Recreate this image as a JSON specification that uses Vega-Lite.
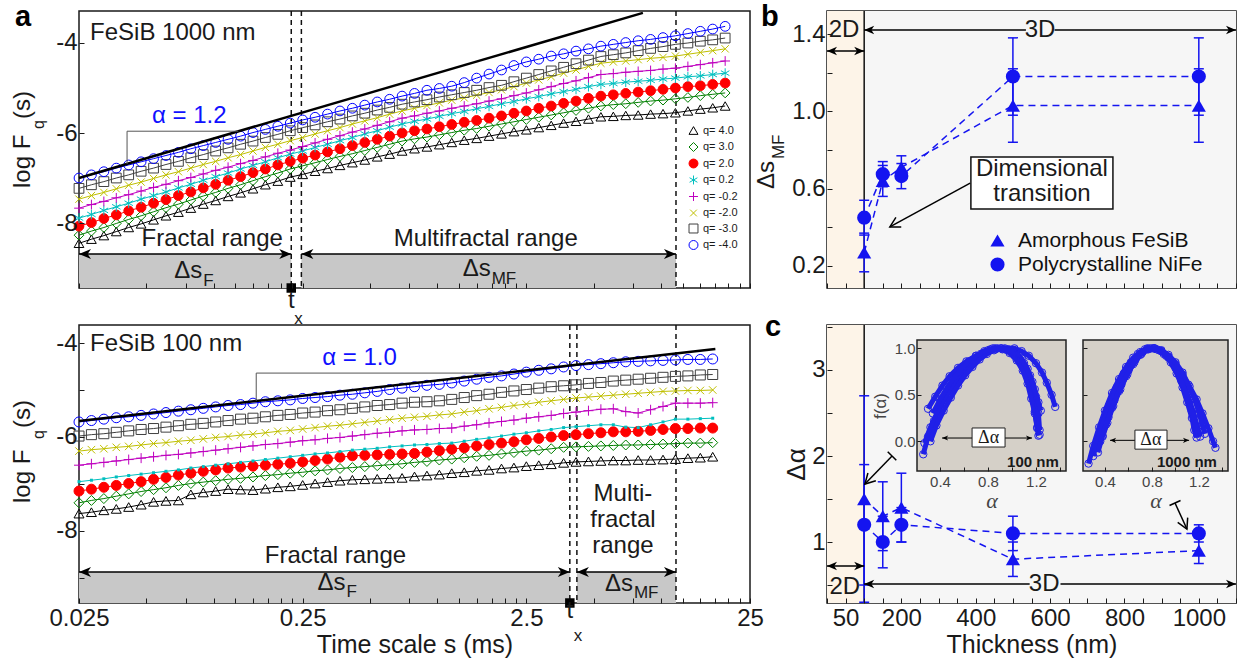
{
"$schema":"https://vega.github.io/schema/vega-lite/v6.json",
"padding":{"left":10,"top":2,"right":5,"bottom":5},
"background":"white",
"config":{
 "font":"Liberation Sans",
 "view":{"stroke":"#1a1a1a","strokeWidth":1.5},
 "axis":{"domain":false,"grid":false,"ticks":true,"tickColor":"#1a1a1a","tickSize":-5,"tickWidth":1,"labelFont":"Liberation Sans","labelFontSize":24,"labelColor":"#1a1a1a","labelPadding":8,"titleFont":"Liberation Sans","titleFontSize":25,"titleFontWeight":"normal","titleColor":"#1a1a1a","labelFlush":false,"labelOverlap":false},
 "text":{"font":"Liberation Sans","color":"#1a1a1a"}
},
"resolve":{"scale":{"color":"independent","shape":"independent","stroke":"independent","fill":"independent","size":"independent"},"legend":{"color":"independent","shape":"independent","stroke":"independent","fill":"independent","size":"independent"}},
"datasets":{
 "qinfo":[{"key":"q4","q":"q=  4.0"},{"key":"q3","q":"q=  3.0"},{"key":"q2","q":"q=  2.0"},{"key":"q02","q":"q=  0.2"},{"key":"qm02","q":"q= -0.2"},{"key":"qm2","q":"q= -2.0"},{"key":"qm3","q":"q= -3.0"},{"key":"qm4","q":"q= -4.0"}],
 "aTop":[
{"s":0.025,"q4":-8.45,"q3":-8.27,"q2":-8.07,"q02":-7.89,"qm02":-7.67,"qm2":-7.47,"qm3":-7.23,"qm4":-7.0},
{"s":0.02841,"q4":-8.36,"q3":-8.18,"q2":-7.99,"q02":-7.81,"qm02":-7.59,"qm2":-7.39,"qm3":-7.15,"qm4":-6.93},
{"s":0.03229,"q4":-8.28,"q3":-8.1,"q2":-7.9,"q02":-7.72,"qm02":-7.52,"qm2":-7.32,"qm3":-7.08,"qm4":-6.86},
{"s":0.0367,"q4":-8.19,"q3":-8.01,"q2":-7.82,"q02":-7.64,"qm02":-7.44,"qm2":-7.24,"qm3":-7.0,"qm4":-6.78},
{"s":0.0417,"q4":-8.1,"q3":-7.92,"q2":-7.73,"q02":-7.56,"qm02":-7.37,"qm2":-7.16,"qm3":-6.93,"qm4":-6.71},
{"s":0.04739,"q4":-8.02,"q3":-7.84,"q2":-7.65,"q02":-7.47,"qm02":-7.29,"qm2":-7.09,"qm3":-6.85,"qm4":-6.64},
{"s":0.05386,"q4":-7.93,"q3":-7.75,"q2":-7.56,"q02":-7.39,"qm02":-7.21,"qm2":-7.01,"qm3":-6.78,"qm4":-6.57},
{"s":0.06121,"q4":-7.84,"q3":-7.66,"q2":-7.48,"q02":-7.31,"qm02":-7.14,"qm2":-6.93,"qm3":-6.7,"qm4":-6.5},
{"s":0.06957,"q4":-7.76,"q3":-7.58,"q2":-7.39,"q02":-7.22,"qm02":-7.06,"qm2":-6.86,"qm3":-6.63,"qm4":-6.43},
{"s":0.07906,"q4":-7.67,"q3":-7.49,"q2":-7.31,"q02":-7.14,"qm02":-6.99,"qm2":-6.78,"qm3":-6.55,"qm4":-6.35},
{"s":0.08985,"q4":-7.58,"q3":-7.4,"q2":-7.22,"q02":-7.05,"qm02":-6.91,"qm2":-6.7,"qm3":-6.48,"qm4":-6.28},
{"s":0.1021,"q4":-7.5,"q3":-7.32,"q2":-7.14,"q02":-6.97,"qm02":-6.83,"qm2":-6.63,"qm3":-6.4,"qm4":-6.21},
{"s":0.116,"q4":-7.41,"q3":-7.23,"q2":-7.05,"q02":-6.89,"qm02":-6.76,"qm2":-6.55,"qm3":-6.33,"qm4":-6.14},
{"s":0.1319,"q4":-7.33,"q3":-7.15,"q2":-6.97,"q02":-6.8,"qm02":-6.68,"qm2":-6.48,"qm3":-6.25,"qm4":-6.07},
{"s":0.1499,"q4":-7.24,"q3":-7.06,"q2":-6.88,"q02":-6.72,"qm02":-6.61,"qm2":-6.4,"qm3":-6.18,"qm4":-5.99},
{"s":0.1703,"q4":-7.15,"q3":-6.97,"q2":-6.8,"q02":-6.64,"qm02":-6.53,"qm2":-6.32,"qm3":-6.1,"qm4":-5.92},
{"s":0.1936,"q4":-7.07,"q3":-6.89,"q2":-6.71,"q02":-6.55,"qm02":-6.45,"qm2":-6.25,"qm3":-6.03,"qm4":-5.85},
{"s":0.22,"q4":-6.98,"q3":-6.8,"q2":-6.63,"q02":-6.47,"qm02":-6.38,"qm2":-6.17,"qm3":-5.95,"qm4":-5.78},
{"s":0.25,"q4":-6.92,"q3":-6.73,"q2":-6.56,"q02":-6.4,"qm02":-6.3,"qm2":-6.1,"qm3":-5.88,"qm4":-5.71},
{"s":0.2841,"q4":-6.85,"q3":-6.66,"q2":-6.49,"q02":-6.32,"qm02":-6.22,"qm2":-6.02,"qm3":-5.82,"qm4":-5.65},
{"s":0.3229,"q4":-6.79,"q3":-6.59,"q2":-6.42,"q02":-6.25,"qm02":-6.14,"qm2":-5.95,"qm3":-5.75,"qm4":-5.58},
{"s":0.367,"q4":-6.72,"q3":-6.52,"q2":-6.35,"q02":-6.17,"qm02":-6.06,"qm2":-5.88,"qm3":-5.69,"qm4":-5.51},
{"s":0.417,"q4":-6.66,"q3":-6.46,"q2":-6.28,"q02":-6.1,"qm02":-5.98,"qm2":-5.8,"qm3":-5.62,"qm4":-5.45},
{"s":0.4739,"q4":-6.6,"q3":-6.39,"q2":-6.21,"q02":-6.02,"qm02":-5.91,"qm2":-5.73,"qm3":-5.56,"qm4":-5.38},
{"s":0.5386,"q4":-6.53,"q3":-6.32,"q2":-6.14,"q02":-5.95,"qm02":-5.83,"qm2":-5.66,"qm3":-5.49,"qm4":-5.31},
{"s":0.6121,"q4":-6.47,"q3":-6.25,"q2":-6.07,"q02":-5.87,"qm02":-5.75,"qm2":-5.58,"qm3":-5.43,"qm4":-5.25},
{"s":0.6957,"q4":-6.4,"q3":-6.18,"q2":-6.0,"q02":-5.8,"qm02":-5.67,"qm2":-5.51,"qm3":-5.36,"qm4":-5.18},
{"s":0.7906,"q4":-6.35,"q3":-6.13,"q2":-5.95,"q02":-5.74,"qm02":-5.62,"qm2":-5.45,"qm3":-5.31,"qm4":-5.12},
{"s":0.8985,"q4":-6.31,"q3":-6.09,"q2":-5.91,"q02":-5.69,"qm02":-5.56,"qm2":-5.39,"qm3":-5.26,"qm4":-5.05},
{"s":1.021,"q4":-6.26,"q3":-6.04,"q2":-5.86,"q02":-5.63,"qm02":-5.51,"qm2":-5.33,"qm3":-5.2,"qm4":-5.01},
{"s":1.16,"q4":-6.21,"q3":-5.99,"q2":-5.81,"q02":-5.57,"qm02":-5.45,"qm2":-5.27,"qm3":-5.15,"qm4":-4.96},
{"s":1.319,"q4":-6.16,"q3":-5.94,"q2":-5.76,"q02":-5.52,"qm02":-5.4,"qm2":-5.22,"qm3":-5.1,"qm4":-4.88},
{"s":1.499,"q4":-6.12,"q3":-5.9,"q2":-5.72,"q02":-5.46,"qm02":-5.35,"qm2":-5.16,"qm3":-5.05,"qm4":-4.78},
{"s":1.703,"q4":-6.07,"q3":-5.85,"q2":-5.67,"q02":-5.41,"qm02":-5.29,"qm2":-5.1,"qm3":-4.99,"qm4":-4.69},
{"s":1.936,"q4":-6.02,"q3":-5.8,"q2":-5.62,"q02":-5.35,"qm02":-5.24,"qm2":-5.04,"qm3":-4.94,"qm4":-4.6},
{"s":2.2,"q4":-5.97,"q3":-5.75,"q2":-5.56,"q02":-5.3,"qm02":-5.17,"qm2":-4.97,"qm3":-4.86,"qm4":-4.5},
{"s":2.5,"q4":-5.93,"q3":-5.7,"q2":-5.51,"q02":-5.24,"qm02":-5.11,"qm2":-4.89,"qm3":-4.78,"qm4":-4.42},
{"s":2.841,"q4":-5.88,"q3":-5.65,"q2":-5.45,"q02":-5.19,"qm02":-5.04,"qm2":-4.82,"qm3":-4.7,"qm4":-4.36},
{"s":3.229,"q4":-5.83,"q3":-5.6,"q2":-5.4,"q02":-5.13,"qm02":-4.97,"qm2":-4.75,"qm3":-4.62,"qm4":-4.29},
{"s":3.67,"q4":-5.78,"q3":-5.55,"q2":-5.34,"q02":-5.08,"qm02":-4.9,"qm2":-4.67,"qm3":-4.54,"qm4":-4.24},
{"s":4.17,"q4":-5.74,"q3":-5.5,"q2":-5.29,"q02":-5.03,"qm02":-4.84,"qm2":-4.6,"qm3":-4.46,"qm4":-4.18},
{"s":4.739,"q4":-5.69,"q3":-5.45,"q2":-5.23,"q02":-4.97,"qm02":-4.77,"qm2":-4.52,"qm3":-4.38,"qm4":-4.13},
{"s":5.386,"q4":-5.64,"q3":-5.4,"q2":-5.18,"q02":-4.92,"qm02":-4.7,"qm2":-4.45,"qm3":-4.3,"qm4":-4.07},
{"s":6.121,"q4":-5.63,"q3":-5.37,"q2":-5.15,"q02":-4.9,"qm02":-4.68,"qm2":-4.42,"qm3":-4.26,"qm4":-4.03},
{"s":6.957,"q4":-5.61,"q3":-5.35,"q2":-5.12,"q02":-4.87,"qm02":-4.65,"qm2":-4.4,"qm3":-4.22,"qm4":-3.99},
{"s":7.906,"q4":-5.6,"q3":-5.32,"q2":-5.09,"q02":-4.85,"qm02":-4.63,"qm2":-4.37,"qm3":-4.17,"qm4":-3.95},
{"s":8.985,"q4":-5.58,"q3":-5.29,"q2":-5.06,"q02":-4.83,"qm02":-4.61,"qm2":-4.34,"qm3":-4.12,"qm4":-3.92},
{"s":10.21,"q4":-5.57,"q3":-5.27,"q2":-5.03,"q02":-4.8,"qm02":-4.58,"qm2":-4.32,"qm3":-4.08,"qm4":-3.88},
{"s":11.6,"q4":-5.55,"q3":-5.24,"q2":-5.0,"q02":-4.78,"qm02":-4.56,"qm2":-4.29,"qm3":-4.03,"qm4":-3.84},
{"s":13.19,"q4":-5.51,"q3":-5.21,"q2":-4.97,"q02":-4.75,"qm02":-4.52,"qm2":-4.25,"qm3":-4.0,"qm4":-3.79},
{"s":14.99,"q4":-5.47,"q3":-5.17,"q2":-4.95,"q02":-4.73,"qm02":-4.48,"qm2":-4.21,"qm3":-3.96,"qm4":-3.74},
{"s":17.03,"q4":-5.44,"q3":-5.14,"q2":-4.92,"q02":-4.7,"qm02":-4.44,"qm2":-4.17,"qm3":-3.93,"qm4":-3.69},
{"s":19.36,"q4":-5.4,"q3":-5.11,"q2":-4.89,"q02":-4.67,"qm02":-4.4,"qm2":-4.13,"qm3":-3.89,"qm4":-3.63}
 ],
 "aBot":[
{"s":0.025,"q4":-7.63,"q3":-7.4,"q2":-7.15,"q02":-6.95,"qm02":-6.6,"qm2":-6.3,"qm3":-5.98,"qm4":-5.68},
{"s":0.02841,"q4":-7.6,"q3":-7.35,"q2":-7.11,"q02":-6.92,"qm02":-6.57,"qm2":-6.27,"qm3":-5.95,"qm4":-5.65},
{"s":0.03229,"q4":-7.56,"q3":-7.31,"q2":-7.07,"q02":-6.89,"qm02":-6.54,"qm2":-6.25,"qm3":-5.93,"qm4":-5.62},
{"s":0.0367,"q4":-7.53,"q3":-7.26,"q2":-7.03,"q02":-6.85,"qm02":-6.51,"qm2":-6.22,"qm3":-5.9,"qm4":-5.59},
{"s":0.0417,"q4":-7.49,"q3":-7.21,"q2":-6.99,"q02":-6.82,"qm02":-6.48,"qm2":-6.2,"qm3":-5.87,"qm4":-5.57},
{"s":0.04739,"q4":-7.44,"q3":-7.16,"q2":-6.95,"q02":-6.79,"qm02":-6.45,"qm2":-6.17,"qm3":-5.84,"qm4":-5.54},
{"s":0.05386,"q4":-7.38,"q3":-7.12,"q2":-6.9,"q02":-6.76,"qm02":-6.42,"qm2":-6.14,"qm3":-5.82,"qm4":-5.51},
{"s":0.06121,"q4":-7.36,"q3":-7.08,"q2":-6.86,"q02":-6.73,"qm02":-6.39,"qm2":-6.12,"qm3":-5.79,"qm4":-5.48},
{"s":0.06957,"q4":-7.35,"q3":-7.03,"q2":-6.81,"q02":-6.7,"qm02":-6.37,"qm2":-6.09,"qm3":-5.76,"qm4":-5.45},
{"s":0.07906,"q4":-7.22,"q3":-6.99,"q2":-6.77,"q02":-6.66,"qm02":-6.34,"qm2":-6.07,"qm3":-5.73,"qm4":-5.42},
{"s":0.08985,"q4":-7.18,"q3":-6.96,"q2":-6.73,"q02":-6.63,"qm02":-6.31,"qm2":-6.04,"qm3":-5.71,"qm4":-5.39},
{"s":0.1021,"q4":-7.15,"q3":-6.93,"q2":-6.7,"q02":-6.6,"qm02":-6.28,"qm2":-6.01,"qm3":-5.68,"qm4":-5.36},
{"s":0.116,"q4":-7.11,"q3":-6.9,"q2":-6.66,"q02":-6.57,"qm02":-6.25,"qm2":-5.99,"qm3":-5.65,"qm4":-5.33},
{"s":0.1319,"q4":-7.12,"q3":-6.88,"q2":-6.64,"q02":-6.54,"qm02":-6.22,"qm2":-5.96,"qm3":-5.62,"qm4":-5.31},
{"s":0.1499,"q4":-7.13,"q3":-6.85,"q2":-6.62,"q02":-6.51,"qm02":-6.19,"qm2":-5.94,"qm3":-5.6,"qm4":-5.28},
{"s":0.1703,"q4":-7.1,"q3":-6.82,"q2":-6.6,"q02":-6.48,"qm02":-6.16,"qm2":-5.91,"qm3":-5.57,"qm4":-5.25},
{"s":0.1936,"q4":-7.07,"q3":-6.8,"q2":-6.58,"q02":-6.45,"qm02":-6.14,"qm2":-5.88,"qm3":-5.54,"qm4":-5.23},
{"s":0.22,"q4":-7.05,"q3":-6.77,"q2":-6.56,"q02":-6.42,"qm02":-6.11,"qm2":-5.86,"qm3":-5.52,"qm4":-5.21},
{"s":0.25,"q4":-7.02,"q3":-6.75,"q2":-6.53,"q02":-6.39,"qm02":-6.08,"qm2":-5.83,"qm3":-5.49,"qm4":-5.18},
{"s":0.2841,"q4":-6.99,"q3":-6.72,"q2":-6.5,"q02":-6.36,"qm02":-6.06,"qm2":-5.8,"qm3":-5.47,"qm4":-5.16},
{"s":0.3229,"q4":-6.96,"q3":-6.7,"q2":-6.47,"q02":-6.34,"qm02":-6.03,"qm2":-5.77,"qm3":-5.44,"qm4":-5.14},
{"s":0.367,"q4":-6.93,"q3":-6.67,"q2":-6.43,"q02":-6.31,"qm02":-6.01,"qm2":-5.75,"qm3":-5.42,"qm4":-5.11},
{"s":0.417,"q4":-6.91,"q3":-6.65,"q2":-6.4,"q02":-6.28,"qm02":-5.98,"qm2":-5.72,"qm3":-5.39,"qm4":-5.09},
{"s":0.4739,"q4":-6.9,"q3":-6.63,"q2":-6.39,"q02":-6.26,"qm02":-5.95,"qm2":-5.69,"qm3":-5.36,"qm4":-5.06},
{"s":0.5386,"q4":-6.89,"q3":-6.61,"q2":-6.38,"q02":-6.24,"qm02":-5.92,"qm2":-5.66,"qm3":-5.33,"qm4":-5.03},
{"s":0.6121,"q4":-6.88,"q3":-6.59,"q2":-6.37,"q02":-6.21,"qm02":-5.9,"qm2":-5.63,"qm3":-5.31,"qm4":-4.99},
{"s":0.6957,"q4":-6.87,"q3":-6.57,"q2":-6.36,"q02":-6.19,"qm02":-5.87,"qm2":-5.6,"qm3":-5.28,"qm4":-4.96},
{"s":0.7906,"q4":-6.84,"q3":-6.54,"q2":-6.35,"q02":-6.17,"qm02":-5.85,"qm2":-5.58,"qm3":-5.26,"qm4":-4.93},
{"s":0.8985,"q4":-6.82,"q3":-6.52,"q2":-6.32,"q02":-6.16,"qm02":-5.84,"qm2":-5.56,"qm3":-5.25,"qm4":-4.9},
{"s":1.021,"q4":-6.8,"q3":-6.49,"q2":-6.29,"q02":-6.14,"qm02":-5.82,"qm2":-5.53,"qm3":-5.23,"qm4":-4.88},
{"s":1.16,"q4":-6.77,"q3":-6.47,"q2":-6.26,"q02":-6.13,"qm02":-5.81,"qm2":-5.51,"qm3":-5.2,"qm4":-4.85},
{"s":1.319,"q4":-6.75,"q3":-6.44,"q2":-6.23,"q02":-6.09,"qm02":-5.77,"qm2":-5.47,"qm3":-5.16,"qm4":-4.81},
{"s":1.499,"q4":-6.72,"q3":-6.41,"q2":-6.19,"q02":-6.05,"qm02":-5.74,"qm2":-5.44,"qm3":-5.12,"qm4":-4.77},
{"s":1.703,"q4":-6.7,"q3":-6.39,"q2":-6.16,"q02":-6.02,"qm02":-5.7,"qm2":-5.4,"qm3":-5.09,"qm4":-4.73},
{"s":1.936,"q4":-6.67,"q3":-6.36,"q2":-6.13,"q02":-5.98,"qm02":-5.67,"qm2":-5.37,"qm3":-5.05,"qm4":-4.7},
{"s":2.2,"q4":-6.65,"q3":-6.33,"q2":-6.1,"q02":-5.94,"qm02":-5.64,"qm2":-5.33,"qm3":-5.02,"qm4":-4.66},
{"s":2.5,"q4":-6.62,"q3":-6.3,"q2":-6.06,"q02":-5.91,"qm02":-5.6,"qm2":-5.3,"qm3":-4.99,"qm4":-4.62},
{"s":2.841,"q4":-6.6,"q3":-6.28,"q2":-6.03,"q02":-5.87,"qm02":-5.57,"qm2":-5.26,"qm3":-4.96,"qm4":-4.58},
{"s":3.229,"q4":-6.58,"q3":-6.25,"q2":-6.0,"q02":-5.84,"qm02":-5.54,"qm2":-5.23,"qm3":-4.93,"qm4":-4.55},
{"s":3.67,"q4":-6.55,"q3":-6.22,"q2":-5.97,"q02":-5.8,"qm02":-5.5,"qm2":-5.2,"qm3":-4.91,"qm4":-4.51},
{"s":4.17,"q4":-6.53,"q3":-6.21,"q2":-5.95,"q02":-5.78,"qm02":-5.47,"qm2":-5.17,"qm3":-4.89,"qm4":-4.48},
{"s":4.739,"q4":-6.52,"q3":-6.2,"q2":-5.93,"q02":-5.76,"qm02":-5.44,"qm2":-5.15,"qm3":-4.86,"qm4":-4.46},
{"s":5.386,"q4":-6.51,"q3":-6.19,"q2":-5.91,"q02":-5.74,"qm02":-5.41,"qm2":-5.13,"qm3":-4.84,"qm4":-4.44},
{"s":6.121,"q4":-6.5,"q3":-6.18,"q2":-5.89,"q02":-5.74,"qm02":-5.4,"qm2":-5.11,"qm3":-4.81,"qm4":-4.42},
{"s":6.957,"q4":-6.5,"q3":-6.17,"q2":-5.89,"q02":-5.79,"qm02":-5.46,"qm2":-5.09,"qm3":-4.79,"qm4":-4.4},
{"s":7.906,"q4":-6.49,"q3":-6.17,"q2":-5.88,"q02":-5.8,"qm02":-5.49,"qm2":-5.07,"qm3":-4.77,"qm4":-4.39},
{"s":8.985,"q4":-6.49,"q3":-6.16,"q2":-5.86,"q02":-5.74,"qm02":-5.42,"qm2":-5.05,"qm3":-4.75,"qm4":-4.38},
{"s":10.21,"q4":-6.48,"q3":-6.15,"q2":-5.84,"q02":-5.68,"qm02":-5.35,"qm2":-5.03,"qm3":-4.73,"qm4":-4.37},
{"s":11.6,"q4":-6.47,"q3":-6.14,"q2":-5.82,"q02":-5.62,"qm02":-5.28,"qm2":-5.02,"qm3":-4.71,"qm4":-4.36},
{"s":13.19,"q4":-6.45,"q3":-6.13,"q2":-5.82,"q02":-5.62,"qm02":-5.28,"qm2":-5.01,"qm3":-4.7,"qm4":-4.35},
{"s":14.99,"q4":-6.44,"q3":-6.13,"q2":-5.81,"q02":-5.61,"qm02":-5.28,"qm2":-5.01,"qm3":-4.68,"qm4":-4.35},
{"s":17.03,"q4":-6.42,"q3":-6.12,"q2":-5.81,"q02":-5.6,"qm02":-5.27,"qm2":-5.0,"qm3":-4.67,"qm4":-4.34}
 ],
 "bData":[
  {"mat":"Amorphous FeSiB","t":100,"v":0.27,"lo":0.17,"hi":0.37},
  {"mat":"Amorphous FeSiB","t":150,"v":0.64,"lo":0.56,"hi":0.72},
  {"mat":"Amorphous FeSiB","t":200,"v":0.71,"lo":0.65,"hi":0.77},
  {"mat":"Amorphous FeSiB","t":500,"v":1.03,"lo":0.84,"hi":1.22},
  {"mat":"Amorphous FeSiB","t":1000,"v":1.03,"lo":0.84,"hi":1.22},
  {"mat":"Polycrystalline NiFe","t":100,"v":0.45,"lo":0.36,"hi":0.54},
  {"mat":"Polycrystalline NiFe","t":150,"v":0.675,"lo":0.61,"hi":0.74},
  {"mat":"Polycrystalline NiFe","t":200,"v":0.665,"lo":0.6,"hi":0.73},
  {"mat":"Polycrystalline NiFe","t":500,"v":1.18,"lo":0.98,"hi":1.38},
  {"mat":"Polycrystalline NiFe","t":1000,"v":1.18,"lo":0.98,"hi":1.38}
 ],
 "cData":[
  {"mat":"Amorphous FeSiB","t":100,"v":1.5,"lo":0.3,"hi":2.7},
  {"mat":"Amorphous FeSiB","t":150,"v":1.3,"lo":0.9,"hi":1.7},
  {"mat":"Amorphous FeSiB","t":200,"v":1.4,"lo":1.0,"hi":1.8},
  {"mat":"Amorphous FeSiB","t":500,"v":0.8,"lo":0.6,"hi":1.0},
  {"mat":"Amorphous FeSiB","t":1000,"v":0.9,"lo":0.75,"hi":1.05},
  {"mat":"Polycrystalline NiFe","t":100,"v":1.2,"lo":0.5,"hi":1.9},
  {"mat":"Polycrystalline NiFe","t":150,"v":1.0,"lo":0.7,"hi":1.3},
  {"mat":"Polycrystalline NiFe","t":200,"v":1.2,"lo":1.0,"hi":1.4},
  {"mat":"Polycrystalline NiFe","t":500,"v":1.1,"lo":0.9,"hi":1.3},
  {"mat":"Polycrystalline NiFe","t":1000,"v":1.1,"lo":1.0,"hi":1.2}
 ],
 "spec100":[
  {"curve":"c1","a":[0.3,0.36,0.42,0.48,0.55,0.62,0.7,0.78,0.86,0.94,1.02,1.08,1.14,1.2,1.25,1.29,1.33,1.36],"f":[0.35,0.48,0.6,0.7,0.79,0.86,0.92,0.96,0.99,1.0,1.0,0.97,0.92,0.84,0.74,0.63,0.5,0.37]},
  {"curve":"c2","a":[0.26,0.3,0.35,0.4,0.46,0.52,0.58,0.64,0.7,0.76,0.82,0.88,0.94,1.0,1.05,1.1,1.14,1.17,1.19,1.21,1.22],"f":[-0.14,0.05,0.22,0.36,0.5,0.62,0.73,0.82,0.89,0.95,0.99,1.0,0.99,0.95,0.88,0.77,0.63,0.48,0.32,0.15,0.06]},
  {"curve":"c3","a":[0.27,0.32,0.38,0.44,0.5,0.56,0.62,0.68,0.74,0.8,0.86,0.92,0.98,1.04,1.09,1.13,1.16,1.19,1.21,1.23],"f":[-0.02,0.15,0.32,0.47,0.6,0.71,0.8,0.88,0.94,0.98,1.0,0.99,0.95,0.87,0.76,0.62,0.46,0.3,0.14,0.07]},
  {"curve":"c4","a":[0.32,0.37,0.43,0.49,0.55,0.61,0.67,0.73,0.79,0.85,0.91,0.97,1.03,1.08,1.13,1.17,1.2,1.22,1.23],"f":[0.0,0.17,0.33,0.47,0.6,0.71,0.8,0.88,0.94,0.98,1.0,0.99,0.96,0.89,0.78,0.64,0.48,0.3,0.12]},
  {"curve":"c5","a":[0.34,0.4,0.46,0.52,0.58,0.64,0.7,0.77,0.84,0.91,0.98,1.04,1.1,1.15,1.19,1.22,1.24],"f":[0.3,0.45,0.58,0.69,0.78,0.86,0.92,0.97,1.0,1.0,0.98,0.93,0.84,0.71,0.56,0.42,0.33]}
 ],
 "spec1000":[
  {"curve":"A","a":[0.26,0.3,0.35,0.4,0.46,0.52,0.58,0.64,0.7,0.76,0.82,0.88,0.94,1.0,1.06,1.12,1.18,1.23,1.28,1.32,1.34],"f":[-0.24,-0.05,0.15,0.33,0.52,0.67,0.8,0.9,0.96,1.0,1.0,0.97,0.91,0.83,0.72,0.59,0.45,0.3,0.14,0.0,-0.07]},
  {"curve":"B","a":[0.3,0.34,0.39,0.44,0.5,0.56,0.62,0.68,0.74,0.8,0.86,0.92,0.98,1.03,1.08,1.12,1.16,1.19,1.21],"f":[-0.16,0.02,0.22,0.4,0.58,0.73,0.85,0.94,0.99,1.0,0.98,0.92,0.83,0.72,0.58,0.44,0.28,0.14,0.05]},
  {"curve":"C","a":[0.34,0.38,0.43,0.48,0.54,0.6,0.66,0.72,0.78,0.84,0.9,0.96,1.01,1.06,1.1,1.14,1.16,1.18],"f":[-0.12,0.06,0.26,0.44,0.61,0.76,0.88,0.96,1.0,0.99,0.94,0.85,0.73,0.58,0.42,0.25,0.12,0.04]},
  {"curve":"D","a":[0.38,0.42,0.47,0.53,0.59,0.65,0.71,0.77,0.82,0.88,0.94,1.0,1.05,1.1,1.14,1.17,1.19],"f":[0.05,0.2,0.38,0.56,0.72,0.85,0.94,0.99,1.0,0.97,0.9,0.79,0.65,0.49,0.32,0.17,0.08]},
  {"curve":"E","a":[0.36,0.41,0.46,0.52,0.58,0.64,0.7,0.76,0.82,0.88,0.94,1.0,1.06,1.11,1.16,1.2,1.23,1.25],"f":[0.0,0.18,0.36,0.54,0.7,0.83,0.93,0.99,1.0,0.98,0.93,0.85,0.74,0.61,0.46,0.31,0.17,0.08]}
 ]
},
"columns":2,
"spacing":{"row":37,"column":77},
"bounds":"flush",
"concat":[
  {"width":671,"height":277,
   "resolve":{"scale":{"stroke":"independent","fill":"independent","shape":"independent"},"legend":{"stroke":"independent","fill":"independent","shape":"independent"}},
   "encoding":{
    "x":{"field":"s","type":"quantitative","scale":{"type":"log","domain":[0.025,25],"nice":false},"axis":{"zindex":1,"values":[0.025,0.05,0.075,0.1,0.125,0.15,0.175,0.2,0.225,0.25,0.5,0.75,1,1.25,1.5,1.75,2,2.25,2.5,5,7.5,10,12.5,15,17.5,20,22.5,25],"labels":false,"title":null}},
    "y":{"field":"F","type":"quantitative","scale":{"domain":[-9.444,-3.289],"nice":false,"zero":false},"axis":{"zindex":1,"values":[-8,-6,-4],"labelExpr":"'-' + abs(datum.value)","labelPadding":7,"title":null}}
   },
   "layer":[
    {"data":{"values":[{"s":0.025,"s2":0.2223,"F":-8.689,"F2":-9.444},{"s":0.2467,"s2":11.67,"F":-8.689,"F2":-9.444}]},"mark":{"type":"rect","color":"#c8c8c8"},"encoding":{"x2":{"field":"s2"},"y2":{"field":"F2"}}},
    {"data":{"values":[{"s":0.2223,"F":-3.289,"F2":-9.444},{"s":0.2467,"F":-3.289,"F2":-9.444},{"s":11.67,"F":-3.289,"F2":-9.444}]},"mark":{"type":"rule","color":"#111","strokeWidth":1.5,"strokeDash":[5,4]},"encoding":{"y2":{"field":"F2"}}},
    {"data":{"name":"aTop"},"transform":[{"fold":["q4","q3","q2","q02","qm02","qm2","qm3","qm4"],"as":["key","F"]},{"lookup":"key","from":{"data":{"name":"qinfo"},"key":"key","fields":["q"]}}],
     "mark":{"type":"line","strokeWidth":1},
     "encoding":{"detail":{"field":"q"},"stroke":{"field":"q","type":"nominal","scale":{"domain":["q=  4.0","q=  3.0","q=  2.0","q=  0.2","q= -0.2","q= -2.0","q= -3.0","q= -4.0"],"range":["#000000","#008000","#ff0000","#00bfbf","#bf00bf","#bfbf00","#404040","#0000ff"]},"legend":null}}},
    {"data":{"name":"aTop"},"transform":[{"fold":["q4","q3","q2","q02","qm02","qm2","qm3","qm4"],"as":["key","F"]},{"lookup":"key","from":{"data":{"name":"qinfo"},"key":"key","fields":["q"]}}],
     "mark":{"type":"point","filled":false,"strokeWidth":1,"opacity":1,"size":95},
     "encoding":{
      "stroke":{"field":"q","type":"nominal","scale":{"domain":["q=  4.0","q=  3.0","q=  2.0","q=  0.2","q= -0.2","q= -2.0","q= -3.0","q= -4.0"],"range":["#000000","#008000","#ff0000","#00bfbf","#bf00bf","#bfbf00","#404040","#0000ff"]},"legend":{"orient":"none","legendX":609,"legendY":114,"title":null,"labelFontSize":11,"labelFont":"Liberation Sans","labelColor":"#1a1a1a","rowPadding":3.5,"padding":0,"symbolStrokeWidth":1,"labelOffset":4,"symbolSize":80}},
      "fill":{"field":"q","type":"nominal","scale":{"domain":["q=  4.0","q=  3.0","q=  2.0","q=  0.2","q= -0.2","q= -2.0","q= -3.0","q= -4.0"],"range":["transparent","transparent","#ff0000","transparent","transparent","transparent","transparent","transparent"]},"legend":{"orient":"none","legendX":609,"legendY":114,"title":null,"labelFontSize":11,"labelFont":"Liberation Sans","labelColor":"#1a1a1a","rowPadding":3.5,"padding":0,"symbolStrokeWidth":1,"labelOffset":4,"symbolSize":80}},
      "shape":{"field":"q","type":"nominal","scale":{"domain":["q=  4.0","q=  3.0","q=  2.0","q=  0.2","q= -0.2","q= -2.0","q= -3.0","q= -4.0"],"range":["triangle-up","diamond","circle","M0,-1L0,1M-0.87,-0.5L0.87,0.5M-0.87,0.5L0.87,-0.5","M0,-1L0,1M-1,0L1,0","M-0.75,-0.75L0.75,0.75M-0.75,0.75L0.75,-0.75","square","circle"]},"legend":{"orient":"none","legendX":609,"legendY":114,"title":null,"labelFontSize":11,"labelFont":"Liberation Sans","labelColor":"#1a1a1a","rowPadding":3.5,"padding":0,"symbolStrokeWidth":1,"labelOffset":4,"symbolSize":80}}
     }},
    {"data":{"values":[{"s":0.025,"F":-7.0},{"s":8.3,"F":-3.33}]},"mark":{"type":"line","color":"#000","strokeWidth":2.5},"encoding":{}},
    {"data":{"values":[{"s":0.041,"F":-6.69,"s2":0.041,"F2":-5.96},{"s":0.041,"F":-5.96,"s2":0.1288,"F2":-5.96}]},"mark":{"type":"rule","color":"#555","strokeWidth":1},"encoding":{"x2":{"field":"s2"},"y2":{"field":"F2"}}},
    {"data":{"values":[{"s":0.025,"s2":0.2223,"F":-8.689},{"s":0.2467,"s2":11.67,"F":-8.689}]},"mark":{"type":"rule","color":"#000","strokeWidth":1.5},"encoding":{"x2":{"field":"s2"}}},
    {"data":{"values":[{"s":0.025,"F":-8.689},{"s":0.2467,"F":-8.689}]},"mark":{"type":"point","shape":"M0,0L1,-0.42L0.72,0L1,0.42Z","filled":true,"color":"#000","size":576,"opacity":1},"encoding":{}},
    {"data":{"values":[{"s":0.2223,"F":-8.689},{"s":11.67,"F":-8.689}]},"mark":{"type":"point","shape":"M0,0L-1,-0.42L-0.72,0L-1,0.42Z","filled":true,"color":"#000","size":576,"opacity":1},"encoding":{}},
    {"data":{"values":[{"s":0.2223,"F":-9.444}]},"mark":{"type":"point","shape":"square","filled":true,"color":"#000","size":90,"opacity":1},"encoding":{}},
    {"data":{"values":[{"s":0.0985,"F":-8.356,"label":"Fractal range"},{"s":1.645,"F":-8.356,"label":"Multifractal range"},{"s":0.2223,"F":-9.733,"label":"t"}]},"mark":{"type":"text","fontSize":24,"align":"center","baseline":"middle"},"encoding":{"text":{"field":"label"}}},
    {"data":{"values":[{"s":0.02801,"F":-3.778,"label":"FeSiB 1000 nm"}]},"mark":{"type":"text","fontSize":24,"align":"left","baseline":"middle"},"encoding":{"text":{"field":"label"}}},
    {"data":{"values":[{"s":0.0778,"F":-5.622,"label":"α = 1.2"}]},"mark":{"type":"text","fontSize":24,"align":"center","baseline":"middle","color":"#1010ff"},"encoding":{"text":{"field":"label"}}},
    {"data":{"values":[{"s":0.0889,"F":-9.067,"label":"Δs"},{"s":1.732,"F":-9.022,"label":"Δs"}]},"mark":{"type":"text","fontSize":24,"align":"right","baseline":"middle"},"encoding":{"text":{"field":"label"}}},
    {"data":{"values":[{"s":0.0898,"F":-9.289,"label":"F"},{"s":1.75,"F":-9.244,"label":"MF"},{"s":0.2295,"F":-10.133,"label":"x"}]},"mark":{"type":"text","fontSize":17,"align":"left","baseline":"middle"},"encoding":{"text":{"field":"label"}}},
    {"data":{"values":[{"s":0.01292,"F":-3.111,"label":"a"}]},"mark":{"type":"text","fontSize":29,"fontWeight":"bold","align":"left","baseline":"top","color":"#000"},"encoding":{"text":{"field":"label"}}},
    {"data":{"values":[{"s":0.01404,"F":-7.222,"label":"log F"},{"s":0.01404,"F":-5.689,"label":"(s)"}]},"mark":{"type":"text","fontSize":24,"angle":270,"align":"left","baseline":"middle"},"encoding":{"text":{"field":"label"}}},
    {"data":{"values":[{"s":0.01655,"F":-5.911,"label":"q"}]},"mark":{"type":"text","fontSize":16,"angle":270,"align":"left","baseline":"middle"},"encoding":{"text":{"field":"label"}}}
   ]},
  {"width":409,"height":277,
   "encoding":{
    "x":{"field":"t","type":"quantitative","scale":{"domain":[0,1100],"nice":false,"zero":false},"axis":{"zindex":1,"values":[0,50,100,150,200,250,300,350,400,450,500,550,600,650,700,750,800,850,900,950,1000,1050,1100],"labels":false,"title":null}},
    "y":{"field":"v","type":"quantitative","scale":{"domain":[0.0862,1.519],"nice":false,"zero":false},"axis":{"zindex":1,"values":[0.2,0.4,0.6,0.8,1,1.2,1.4],"labelExpr":"indexof([0.2,0.6,1,1.4], datum.value) >= 0 ? format(datum.value,'.1f') : ''","labelPadding":7,"title":null}}
   },
   "layer":[
    {"data":{"values":[{"zone":"2D","t":0,"t2":100,"v":0.0862,"v2":1.519},{"zone":"3D","t":100,"t2":1100,"v":0.0862,"v2":1.519}]},"mark":"rect","encoding":{"x2":{"field":"t2"},"y2":{"field":"v2"},"color":{"field":"zone","type":"nominal","scale":{"domain":["2D","3D"],"range":["#fdf4e8","#f6f6f6"]},"legend":null}}},
    {"data":{"values":[{"t":100,"v":0.0862,"v2":1.519}]},"mark":{"type":"rule","color":"#111","strokeWidth":1.5},"encoding":{"y2":{"field":"v2"}}},
    {"data":{"name":"bData"},"mark":{"type":"line","color":"#1414f0","strokeWidth":1.5,"strokeDash":[7,5]},"encoding":{"detail":{"field":"mat"}}},
    {"data":{"name":"bData"},"mark":{"type":"rule","color":"#1414f0","strokeWidth":1.5},"encoding":{"y":{"field":"lo","type":"quantitative","title":null},"y2":{"field":"hi"}}},
    {"data":{"name":"bData"},"transform":[{"fold":["lo","hi"],"as":["which","v"]}],"mark":{"type":"point","shape":"stroke","color":"#1414f0","strokeWidth":1.5,"size":100,"opacity":1},"encoding":{}},
    {"data":{"name":"bData"},"mark":{"type":"point","filled":true,"color":"#1414f0","size":200,"opacity":1},"encoding":{"shape":{"field":"mat","type":"nominal","scale":{"domain":["Amorphous FeSiB","Polycrystalline NiFe"],"range":["triangle-up","circle"]},"legend":{"orient":"none","legendX":160,"legendY":219,"title":null,"labelFontSize":21,"labelFont":"Liberation Sans","labelColor":"#111","labelLimit":400,"symbolSize":200,"symbolFillColor":"#1414f0","symbolStrokeColor":"#1414f0","rowPadding":2,"padding":0,"labelOffset":10}}}},
    {"data":{"values":[{"t":387,"t2":769,"v":0.495,"v2":0.764}]},"mark":{"type":"rect","fill":"white","stroke":"#111","strokeWidth":1.5},"encoding":{"x2":{"field":"t2"},"y2":{"field":"v2"}}},
    {"data":{"values":[{"t":0,"t2":100,"v":1.312},{"t":100,"t2":535,"v":1.421},{"t":612,"t2":1100,"v":1.421}]},"mark":{"type":"rule","color":"#000","strokeWidth":1.5},"encoding":{"x2":{"field":"t2"}}},
    {"data":{"values":[{"t":0,"v":1.312},{"t":100,"v":1.421}]},"mark":{"type":"point","shape":"M0,0L1,-0.42L0.72,0L1,0.42Z","filled":true,"color":"#000","size":400,"opacity":1},"encoding":{}},
    {"data":{"values":[{"t":100,"v":1.312},{"t":1100,"v":1.421}]},"mark":{"type":"point","shape":"M0,0L-1,-0.42L-0.72,0L-1,0.42Z","filled":true,"color":"#000","size":400,"opacity":1},"encoding":{}},
    {"data":{"values":[{"t":45.7,"v":1.421,"label":"2D"},{"t":573,"v":1.421,"label":"3D"},{"t":578,"v":0.702,"label":"Dimensional"},{"t":578,"v":0.572,"label":"transition"}]},"mark":{"type":"text","fontSize":24,"align":"center","baseline":"middle"},"encoding":{"text":{"field":"label"}}},
    {"data":{"values":[{"t":385,"v":0.629,"t2":169,"v2":0.402}]},"mark":{"type":"rule","color":"#000","strokeWidth":1.5},"encoding":{"x2":{"field":"t2"},"y2":{"field":"v2"}}},
    {"data":{"values":[{"t":169,"v":0.402}]},"mark":{"type":"point","shape":"M-1,-0.55L0,0L-1,0.55","filled":false,"color":"#000","strokeWidth":1.5,"size":400,"angle":151,"opacity":1},"encoding":{}},
    {"data":{"values":[{"t":-177.5,"v":1.56,"label":"b"}]},"mark":{"type":"text","fontSize":29,"fontWeight":"bold","align":"left","baseline":"top","color":"#000"},"encoding":{"text":{"field":"label"}}},
    {"data":{"values":[{"t":-161.4,"v":0.598,"label":"Δs"}]},"mark":{"type":"text","fontSize":24,"angle":270,"align":"left","baseline":"middle"},"encoding":{"text":{"field":"label"}}},
    {"data":{"values":[{"t":-129.1,"v":0.753,"label":"MF"}]},"mark":{"type":"text","fontSize":17,"angle":270,"align":"left","baseline":"middle"},"encoding":{"text":{"field":"label"}}}
   ]},
  {"width":671,"height":278,
   "encoding":{
    "x":{"field":"s","type":"quantitative","scale":{"type":"log","domain":[0.025,25],"nice":false},"axis":{"zindex":1,"values":[0.025,0.05,0.075,0.1,0.125,0.15,0.175,0.2,0.225,0.25,0.5,0.75,1,1.25,1.5,1.75,2,2.25,2.5,5,7.5,10,12.5,15,17.5,20,22.5,25],"labelExpr":"indexof([0.025,0.25,2.5,25], datum.value) >= 0 ? format(datum.value, '~g') : ''","title":"Time scale s (ms)","titlePadding":2}},
    "y":{"field":"F","type":"quantitative","scale":{"domain":[-9.532,-3.617],"nice":false,"zero":false},"axis":{"zindex":1,"values":[-9,-8,-7,-6,-5,-4],"labelExpr":"datum.value % 2 == 0 ? '-' + abs(datum.value) : ''","labelPadding":7,"title":null}}
   },
   "layer":[
    {"data":{"values":[{"s":0.025,"s2":3.912,"F":-8.872,"F2":-9.532},{"s":4.207,"s2":11.67,"F":-8.872,"F2":-9.532}]},"mark":{"type":"rect","color":"#c8c8c8"},"encoding":{"x2":{"field":"s2"},"y2":{"field":"F2"}}},
    {"data":{"values":[{"s":3.912,"F":-3.617,"F2":-9.532},{"s":4.207,"F":-3.617,"F2":-9.532},{"s":11.67,"F":-3.617,"F2":-9.532}]},"mark":{"type":"rule","color":"#111","strokeWidth":1.5,"strokeDash":[5,4]},"encoding":{"y2":{"field":"F2"}}},
    {"data":{"name":"aBot"},"transform":[{"fold":["q4","q3","q2","q02","qm02","qm2","qm3","qm4"],"as":["key","F"]},{"lookup":"key","from":{"data":{"name":"qinfo"},"key":"key","fields":["q"]}}],
     "mark":{"type":"line","strokeWidth":1},
     "encoding":{"detail":{"field":"q"},"stroke":{"field":"q","type":"nominal","scale":{"domain":["q=  4.0","q=  3.0","q=  2.0","q=  0.2","q= -0.2","q= -2.0","q= -3.0","q= -4.0"],"range":["#000000","#008000","#ff0000","#00bfbf","#bf00bf","#bfbf00","#404040","#0000ff"]},"legend":null}}},
    {"data":{"name":"aBot"},"transform":[{"fold":["q4","q3","q2","qm02","qm2","qm3","qm4"],"as":["key","F"]},{"lookup":"key","from":{"data":{"name":"qinfo"},"key":"key","fields":["q"]}}],
     "mark":{"type":"point","filled":false,"strokeWidth":1,"opacity":1,"size":100},
     "encoding":{
      "stroke":{"field":"q","type":"nominal","legend":null},
      "fill":{"field":"q","type":"nominal","scale":{"domain":["q=  4.0","q=  3.0","q=  2.0","q=  0.2","q= -0.2","q= -2.0","q= -3.0","q= -4.0"],"range":["transparent","transparent","#ff0000","#00bfbf","transparent","transparent","transparent","transparent"]},"legend":null},
      "shape":{"field":"q","type":"nominal","scale":{"domain":["q=  4.0","q=  3.0","q=  2.0","q=  0.2","q= -0.2","q= -2.0","q= -3.0","q= -4.0"],"range":["triangle-up","diamond","circle","square","M0,-1L0,1M-1,0L1,0","M-0.75,-0.75L0.75,0.75M-0.75,0.75L0.75,-0.75","square","circle"]},"legend":null}
     }},
    {"data":{"name":"aBot"},"transform":[{"fold":["q02"],"as":["key","F"]}],"mark":{"type":"point","shape":"square","filled":true,"color":"#00bfbf","size":9,"opacity":1},"encoding":{}},
    {"data":{"values":[{"s":0.025,"F":-5.66},{"s":17.5,"F":-4.13}]},"mark":{"type":"line","color":"#000","strokeWidth":2.5},"encoding":{}},
    {"data":{"values":[{"s":0.155,"F":-5.23,"s2":0.155,"F2":-4.64},{"s":0.155,"F":-4.64,"s2":1.96,"F2":-4.64}]},"mark":{"type":"rule","color":"#555","strokeWidth":1},"encoding":{"x2":{"field":"s2"},"y2":{"field":"F2"}}},
    {"data":{"values":[{"s":0.025,"s2":3.912,"F":-8.872},{"s":4.207,"s2":11.67,"F":-8.872}]},"mark":{"type":"rule","color":"#000","strokeWidth":1.5},"encoding":{"x2":{"field":"s2"}}},
    {"data":{"values":[{"s":0.025,"F":-8.872},{"s":4.207,"F":-8.872}]},"mark":{"type":"point","shape":"M0,0L1,-0.42L0.72,0L1,0.42Z","filled":true,"color":"#000","size":576,"opacity":1},"encoding":{}},
    {"data":{"values":[{"s":3.912,"F":-8.872},{"s":11.67,"F":-8.872}]},"mark":{"type":"point","shape":"M0,0L-1,-0.42L-0.72,0L-1,0.42Z","filled":true,"color":"#000","size":576,"opacity":1},"encoding":{}},
    {"data":{"values":[{"s":3.912,"F":-9.532}]},"mark":{"type":"point","shape":"square","filled":true,"color":"#000","size":90,"opacity":1},"encoding":{}},
    {"data":{"values":[{"s":0.3503,"F":-8.532,"label":"Fractal range"},{"s":6.755,"F":-7.213,"label":"Multi-"},{"s":6.755,"F":-7.766,"label":"fractal"},{"s":6.755,"F":-8.319,"label":"range"},{"s":3.912,"F":-9.702,"label":"t"}]},"mark":{"type":"text","fontSize":24,"align":"center","baseline":"middle"},"encoding":{"text":{"field":"label"}}},
    {"data":{"values":[{"s":0.02801,"F":-4.021,"label":"FeSiB 100 nm"}]},"mark":{"type":"text","fontSize":24,"align":"left","baseline":"middle"},"encoding":{"text":{"field":"label"}}},
    {"data":{"values":[{"s":0.449,"F":-4.319,"label":"α = 1.0"}]},"mark":{"type":"text","fontSize":24,"align":"center","baseline":"middle","color":"#1010ff"},"encoding":{"text":{"field":"label"}}},
    {"data":{"values":[{"s":0.3883,"F":-9.106,"label":"Δs"},{"s":7.49,"F":-9.128,"label":"Δs"}]},"mark":{"type":"text","fontSize":24,"align":"right","baseline":"middle"},"encoding":{"text":{"field":"label"}}},
    {"data":{"values":[{"s":0.3925,"F":-9.298,"label":"F"},{"s":7.567,"F":-9.319,"label":"MF"},{"s":4.076,"F":-10.234,"label":"x"}]},"mark":{"type":"text","fontSize":17,"align":"left","baseline":"middle"},"encoding":{"text":{"field":"label"}}},
    {"data":{"values":[{"s":0.01404,"F":-7.404,"label":"log F"},{"s":0.01404,"F":-5.809,"label":"(s)"}]},"mark":{"type":"text","fontSize":24,"angle":270,"align":"left","baseline":"middle"},"encoding":{"text":{"field":"label"}}},
    {"data":{"values":[{"s":0.01655,"F":-6.043,"label":"q"}]},"mark":{"type":"text","fontSize":16,"angle":270,"align":"left","baseline":"middle"},"encoding":{"text":{"field":"label"}}}
   ]},
  {"width":409,"height":278,
   "resolve":{"scale":{"x":"independent","y":"independent"},"axis":{"x":"independent","y":"independent"}},
   "layer":[
    {"encoding":{
      "x":{"field":"t","type":"quantitative","scale":{"domain":[0,1100],"nice":false,"zero":false},"axis":{"zindex":1,"orient":"bottom","values":[0,50,100,150,200,250,300,350,400,450,500,550,600,650,700,750,800,850,900,950,1000,1050,1100],"format":"d","labelExpr":"indexof([50,200,400,600,800,1000], datum.value) >= 0 ? datum.label : ''","title":"Thickness (nm)","titlePadding":2}},
      "y":{"field":"v","type":"quantitative","scale":{"domain":[0.291,3.523],"nice":false,"zero":false},"axis":{"zindex":1,"orient":"left","values":[0.5,1,1.5,2,2.5,3,3.5],"labelExpr":"datum.value % 1 == 0 ? format(datum.value,'d') : ''","labelPadding":7,"title":"Δα","titleFontSize":26,"titlePadding":2}}
     },
     "layer":[
      {"data":{"values":[{"zone":"2D","t":0,"t2":100,"v":0.291,"v2":3.523},{"zone":"3D","t":100,"t2":1100,"v":0.291,"v2":3.523}]},"mark":"rect","encoding":{"x2":{"field":"t2"},"y2":{"field":"v2"},"color":{"field":"zone","type":"nominal","scale":{"domain":["2D","3D"],"range":["#fdf4e8","#f6f6f6"]},"legend":null}}},
      {"data":{"values":[{"t":100,"v":0.291,"v2":3.523}]},"mark":{"type":"rule","color":"#111","strokeWidth":1.5},"encoding":{"y2":{"field":"v2"}}},
      {"data":{"name":"cData"},"mark":{"type":"line","color":"#1414f0","strokeWidth":1.5,"strokeDash":[7,5]},"encoding":{"detail":{"field":"mat"}}},
      {"data":{"name":"cData"},"mark":{"type":"rule","color":"#1414f0","strokeWidth":1.5},"encoding":{"y":{"field":"lo","type":"quantitative","title":null},"y2":{"field":"hi"}}},
      {"data":{"name":"cData"},"transform":[{"fold":["lo","hi"],"as":["which","v"]}],"mark":{"type":"point","shape":"stroke","color":"#1414f0","strokeWidth":1.5,"size":100,"opacity":1},"encoding":{}},
      {"data":{"name":"cData"},"mark":{"type":"point","filled":true,"color":"#1414f0","size":200,"opacity":1},"encoding":{"shape":{"field":"mat","type":"nominal","scale":{"domain":["Amorphous FeSiB","Polycrystalline NiFe"],"range":["triangle-up","circle"]},"legend":null}}},
      {"data":{"values":[{"t":0,"t2":100,"v":0.721},{"t":100,"t2":545,"v":0.512},{"t":628,"t2":1100,"v":0.512}]},"mark":{"type":"rule","color":"#000","strokeWidth":1.5},"encoding":{"x2":{"field":"t2"}}},
      {"data":{"values":[{"t":0,"v":0.721},{"t":100,"v":0.512}]},"mark":{"type":"point","shape":"M0,0L1,-0.42L0.72,0L1,0.42Z","filled":true,"color":"#000","size":400,"opacity":1},"encoding":{}},
      {"data":{"values":[{"t":100,"v":0.721},{"t":1100,"v":0.512}]},"mark":{"type":"point","shape":"M0,0L-1,-0.42L-0.72,0L-1,0.42Z","filled":true,"color":"#000","size":400,"opacity":1},"encoding":{}},
      {"data":{"values":[{"t":48,"v":0.477,"label":"2D"},{"t":584,"v":0.512,"label":"3D"}]},"mark":{"type":"text","fontSize":24,"align":"center","baseline":"middle"},"encoding":{"text":{"field":"label"}}},
      {"data":{"values":[{"t":175,"v":2.0,"t2":102,"v2":1.674},{"t":163.3,"v":2.049,"t2":186.4,"v2":1.951},{"t":936,"v":1.453,"t2":968,"v2":1.151},{"t":950.8,"v":1.483,"t2":921.2,"v2":1.424}]},"mark":{"type":"rule","color":"#000","strokeWidth":1.5},"encoding":{"x2":{"field":"t2"},"y2":{"field":"v2"}}},
      {"data":{"values":[{"t":102,"v":1.674}]},"mark":{"type":"point","shape":"M-1,-0.55L0,0L-1,0.55","filled":false,"color":"#000","strokeWidth":1.5,"size":400,"angle":134,"opacity":1},"encoding":{}},
      {"data":{"values":[{"t":968,"v":1.151}]},"mark":{"type":"point","shape":"M-1,-0.55L0,0L-1,0.55","filled":false,"color":"#000","strokeWidth":1.5,"size":400,"angle":65,"opacity":1},"encoding":{}},
      {"data":{"values":[{"t":-166.8,"v":3.663,"label":"c"}]},"mark":{"type":"text","fontSize":29,"fontWeight":"bold","align":"left","baseline":"top","color":"#000"},"encoding":{"text":{"field":"label"}}}
     ]},
    {"encoding":{
      "x":{"field":"a","type":"quantitative","scale":{"domain":[0.208,1.45],"range":[90,239],"nice":false,"zero":false},"axis":{"zindex":2,"orient":"bottom","offset":-132,"values":[0.4,0.6,0.8,1.0,1.2,1.4],"labelExpr":"indexof([0.4,0.8,1.2], datum.value) >= 0 ? format(datum.value,'.1f') : ''","labelFontSize":15,"labelColor":"#444","tickSize":-4,"labelPadding":7,"title":"α","titleFont":"Liberation Serif","titleFontStyle":"italic","titleFontSize":22,"titleColor":"#444","titlePadding":1}},
      "y":{"field":"f","type":"quantitative","scale":{"domain":[-0.32,1.09],"range":[146,15],"nice":false,"zero":false},"axis":{"zindex":2,"orient":"left","offset":-90,"values":[0,0.5,1],"format":".1f","labelFontSize":15,"labelColor":"#444","tickSize":-4,"labelPadding":6,"title":"f(α)","titleFontSize":17,"titleColor":"#444","titlePadding":5}}
     },
     "layer":[
      {"data":{"values":[{"a":0.208,"a2":1.45,"f":-0.32,"f2":1.09}]},"mark":{"type":"rect","fill":"#d5d0c8","stroke":"#222","strokeWidth":1.5},"encoding":{"x2":{"field":"a2"},"y2":{"field":"f2"}}},
      {"data":{"name":"spec100"},"transform":[{"flatten":["a","f"]}],"mark":{"type":"line","color":"#2020e8","strokeWidth":5},"encoding":{"detail":{"field":"curve"}}},
      {"data":{"name":"spec100"},"transform":[{"flatten":["a","f"]}],"mark":{"type":"point","filled":false,"color":"#2020e8","strokeWidth":1,"size":55,"opacity":1},"encoding":{}},
      {"data":{"values":[{"a":0.417,"a2":1.167,"f":0.035}]},"mark":{"type":"rule","color":"#000","strokeWidth":1},"encoding":{"x2":{"field":"a2"}}},
      {"data":{"values":[{"a":0.417,"f":0.035}]},"mark":{"type":"point","shape":"M0,0L1,-0.42L0.72,0L1,0.42Z","filled":true,"color":"#000","size":150,"opacity":1},"encoding":{}},
      {"data":{"values":[{"a":1.167,"f":0.035}]},"mark":{"type":"point","shape":"M0,0L-1,-0.42L-0.72,0L-1,0.42Z","filled":true,"color":"#000","size":150,"opacity":1},"encoding":{}},
      {"data":{"values":[{"a":0.667,"a2":0.942,"f":-0.062,"f2":0.143}]},"mark":{"type":"rect","fill":"white","stroke":"#222","strokeWidth":1},"encoding":{"x2":{"field":"a2"},"y2":{"field":"f2"}}},
      {"data":{"values":[{"a":0.805,"f":0.04,"label":"Δα"}]},"mark":{"type":"text","fontSize":18,"font":"Liberation Serif","align":"center","baseline":"middle"},"encoding":{"text":{"field":"label"}}},
      {"data":{"values":[{"a":1.39,"f":-0.223,"label":"100 nm"}]},"mark":{"type":"text","fontSize":15,"fontWeight":"bold","align":"right","baseline":"middle"},"encoding":{"text":{"field":"label"}}}
     ]},
    {"encoding":{
      "x":{"field":"a","type":"quantitative","scale":{"domain":[0.213,1.447],"range":[256,401],"nice":false,"zero":false},"axis":{"zindex":2,"orient":"bottom","offset":-132,"values":[0.4,0.6,0.8,1.0,1.2,1.4],"labelExpr":"indexof([0.4,0.8,1.2], datum.value) >= 0 ? format(datum.value,'.1f') : ''","labelFontSize":15,"labelColor":"#444","tickSize":-4,"labelPadding":7,"title":"α","titleFont":"Liberation Serif","titleFontStyle":"italic","titleFontSize":22,"titleColor":"#444","titlePadding":1}},
      "y":{"field":"f","type":"quantitative","scale":{"domain":[-0.32,1.09],"range":[146,15],"nice":false,"zero":false},"axis":{"zindex":2,"orient":"left","offset":-256,"values":[0,0.5,1],"labels":false,"tickSize":-4,"title":null}}
     },
     "layer":[
      {"data":{"values":[{"a":0.213,"a2":1.447,"f":-0.32,"f2":1.09}]},"mark":{"type":"rect","fill":"#d5d0c8","stroke":"#222","strokeWidth":1.5},"encoding":{"x2":{"field":"a2"},"y2":{"field":"f2"}}},
      {"data":{"name":"spec1000"},"transform":[{"flatten":["a","f"]}],"mark":{"type":"line","color":"#2020e8","strokeWidth":5},"encoding":{"detail":{"field":"curve"}}},
      {"data":{"name":"spec1000"},"transform":[{"flatten":["a","f"]}],"mark":{"type":"point","filled":false,"color":"#2020e8","strokeWidth":1,"size":55,"opacity":1},"encoding":{}},
      {"data":{"values":[{"a":0.443,"a2":1.116,"f":0.01}]},"mark":{"type":"rule","color":"#000","strokeWidth":1},"encoding":{"x2":{"field":"a2"}}},
      {"data":{"values":[{"a":0.443,"f":0.01}]},"mark":{"type":"point","shape":"M0,0L1,-0.42L0.72,0L1,0.42Z","filled":true,"color":"#000","size":150,"opacity":1},"encoding":{}},
      {"data":{"values":[{"a":1.116,"f":0.01}]},"mark":{"type":"point","shape":"M0,0L-1,-0.42L-0.72,0L-1,0.42Z","filled":true,"color":"#000","size":150,"opacity":1},"encoding":{}},
      {"data":{"values":[{"a":0.655,"a2":0.928,"f":-0.085,"f2":0.12}]},"mark":{"type":"rect","fill":"white","stroke":"#222","strokeWidth":1},"encoding":{"x2":{"field":"a2"},"y2":{"field":"f2"}}},
      {"data":{"values":[{"a":0.79,"f":0.015,"label":"Δα"}]},"mark":{"type":"text","fontSize":18,"font":"Liberation Serif","align":"center","baseline":"middle"},"encoding":{"text":{"field":"label"}}},
      {"data":{"values":[{"a":1.353,"f":-0.223,"label":"1000 nm"}]},"mark":{"type":"text","fontSize":15,"fontWeight":"bold","align":"right","baseline":"middle"},"encoding":{"text":{"field":"label"}}}
     ]}
   ]}
]
}
